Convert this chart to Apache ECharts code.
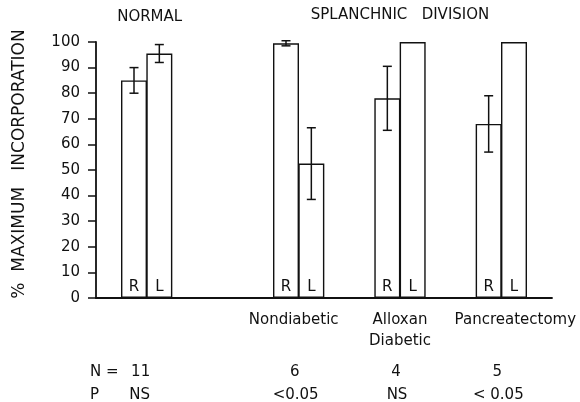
<!DOCTYPE html>
<html>
<head>
<meta charset="utf-8">
<script src="https://cdn.jsdelivr.net/npm/echarts@6/dist/echarts.min.js"></script>
<style>
html,body{margin:0;padding:0;background:#ffffff;}
#c{width:580px;height:402px;}
</style>
</head>
<body>
<div id="c"></div>
<script>
// ---------------- data ----------------
const groups = ['Normal', 'Nondiabetic', 'Alloxan\nDiabetic', 'Pancreatectomy'];
const sideLabels = ['R', 'L'];
const meanR = [85, 99.5, 78, 68];
const errR = [5, 1, 12.5, 11];
const meanL = [95.5, 52.5, 100, 100];
const errL = [3.5, 14, 0, 0];
const nValues = ['11', '6', '4', '5'];
const pValues = ['NS', '<0.05', 'NS', '< 0.05'];
const headers = ['NORMAL', 'SPLANCHNIC   DIVISION'];
const yAxisTitle = '%  MAXIMUM   INCORPORATION';

// ---------------- layout ----------------
const SLOT_COUNT = 18;
const groupStart = [1, 7, 11, 15];          // slot of each R bar
const groupLabelShift = [0, -5, 0, 14];
const FONT = '"DejaVu Sans", sans-serif';
const INK = '#111111';

const slots = [];
for (let i = 0; i < SLOT_COUNT; i++) slots.push('slot' + i);
const barData = slots.map(() => '-');
const barSide = slots.map(() => '');
const errData = [];
groups.forEach((g, gi) => {
  const r = groupStart[gi], l = r + 1;
  barData[r] = meanR[gi]; barSide[r] = sideLabels[0];
  barData[l] = meanL[gi]; barSide[l] = sideLabels[1];
  if (errR[gi] > 0) errData.push([r, meanR[gi] - errR[gi], meanR[gi] + errR[gi]]);
  if (errL[gi] > 0) errData.push([l, meanL[gi] - errL[gi], meanL[gi] + errL[gi]]);
});

const chart = echarts.init(document.getElementById('c'), null, {renderer: 'canvas'});
chart.setOption({
  animation: false,
  backgroundColor: '#ffffff',
  grid: {left: 96, right: 28, top: 42, bottom: 104},
  xAxis: {
    type: 'category',
    data: slots,
    boundaryGap: true,
    axisLine: {show: true, lineStyle: {color: INK, width: 1.8}},
    axisTick: {show: false},
    axisLabel: {show: false},
    splitLine: {show: false}
  },
  yAxis: {
    type: 'value',
    min: 0, max: 100, interval: 10,
    name: yAxisTitle,
    nameLocation: 'middle',
    nameGap: 68,
    nameTextStyle: {fontFamily: FONT, fontSize: 17, color: INK, padding: [0, 0, 0, 12]},
    axisLine: {show: true, lineStyle: {color: INK, width: 1.8}},
    axisTick: {show: true, length: 8, lineStyle: {color: INK, width: 1.5}},
    axisLabel: {margin: 16, fontFamily: FONT, fontSize: 15, color: INK},
    splitLine: {show: false}
  },
  series: [
    {
      type: 'bar',
      data: barData,
      barWidth: 26,
      itemStyle: {color: '#ffffff', borderColor: INK, borderWidth: 1.4},
      label: {
        show: true,
        position: 'insideBottom',
        distance: 3,
        fontFamily: FONT, fontSize: 15, color: INK,
        formatter: p => barSide[p.dataIndex]
      },
      z: 2
    },
    {
      type: 'custom',
      data: errData,
      encode: {x: 0, y: [1, 2]},
      z: 5,
      renderItem: function (params, api) {
        const x = api.value(0);
        const lo = api.coord([x, api.value(1)]);
        const hi = api.coord([x, api.value(2)]);
        const cap = 4.5;
        const style = {stroke: INK, lineWidth: 1.5};
        return {
          type: 'group',
          children: [
            {type: 'line', shape: {x1: lo[0], y1: lo[1], x2: hi[0], y2: hi[1]}, style: style},
            {type: 'line', shape: {x1: lo[0] - cap, y1: lo[1], x2: lo[0] + cap, y2: lo[1]}, style: style},
            {type: 'line', shape: {x1: hi[0] - cap, y1: hi[1], x2: hi[0] + cap, y2: hi[1]}, style: style}
          ]
        };
      }
    }
  ]
});

// ------------- annotations tied to axis positions -------------
function boundaryX(slot) {
  const a = chart.convertToPixel({xAxisIndex: 0}, slot);
  const b = chart.convertToPixel({xAxisIndex: 0}, slot + 1);
  return (a + b) / 2;
}
const baseY = chart.convertToPixel({yAxisIndex: 0}, 0);
const topY = chart.convertToPixel({yAxisIndex: 0}, 100);
const txt = (text, x, y, align, extra) => Object.assign({
  type: 'text',
  style: Object.assign({text: text, x: x, y: y, align: align || 'center', verticalAlign: 'middle',
    font: '15px ' + FONT, fill: INK}, extra || {})
});
const graphics = [];
graphics.push(txt(headers[0], boundaryX(groupStart[0]) + 3, topY - 25, 'center', {font: '15px ' + FONT}));
graphics.push(txt(headers[1], boundaryX(groupStart[2]), topY - 27, 'center', {font: '15px ' + FONT}));
groups.forEach((g, gi) => {
  const cx = boundaryX(groupStart[gi]);
  if (gi > 0) {
    graphics.push({type: 'text', style: {text: g, x: cx + groupLabelShift[gi], y: baseY + 12,
      align: 'center', verticalAlign: 'top', lineHeight: 21, font: '15px ' + FONT, fill: INK}});
  }
  graphics.push(txt(nValues[gi], cx - (gi === 0 ? 6 : 4), baseY + 74));
  graphics.push(txt(pValues[gi], cx - (gi === 0 ? 7 : 3), baseY + 97));
});
graphics.push(txt('N =', 90, baseY + 74, 'left'));
graphics.push(txt('P', 90, baseY + 97, 'left'));
chart.setOption({graphic: graphics});
</script>
</body>
</html>
